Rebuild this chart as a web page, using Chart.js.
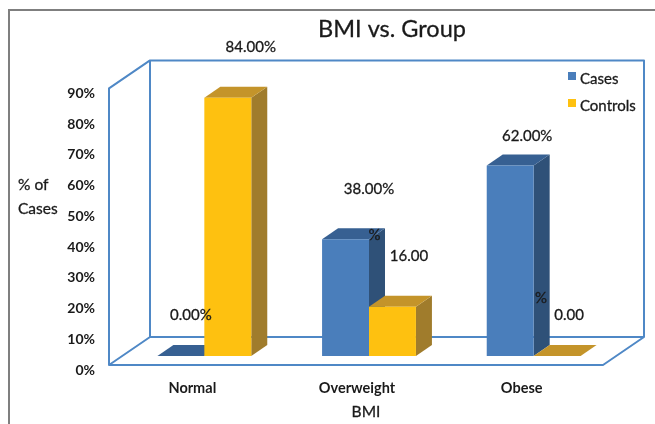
<!DOCTYPE html>
<html>
<head>
<meta charset="utf-8">
<title>BMI vs. Group</title>
<script src="https://cdn.jsdelivr.net/npm/chart.js@4"></script>
<style>
html, body { margin: 0; padding: 0; background: #fff; overflow: hidden; }
#box { position: absolute; left: 8px; top: 9px; width: 645px; height: 440px; border: 2px solid #7f7f7f; pointer-events: none; }
canvas { display: block; }
</style>
</head>
<body>
<canvas id="myChart" width="655" height="424"></canvas>
<div id="box"></div>
<script>
var categories = ['Normal', 'Overweight', 'Obese'];
var cases = [0, 38, 62];
var controls = [84, 16, 0];
var yTicks = [0, 10, 20, 30, 40, 50, 60, 70, 80, 90];

var font = 'Lato, "Open Sans", sans-serif';
var textColor = '#1a1a1a';
var frameColor = '#4f88c6';

// depth of a bar, and where the walls sit relative to the bars
var depth = { x: 16, y: -11 };
var front = { x: -13, y: 9 };
var back = { x: 28, y: -19 };

var faces = [
	{ top: '#376092', side: '#2f5178' },
	{ top: '#c4942a', side: '#a07c2c' }
];

// label placement relative to each bar: [dx, dy] of the number,
// and of the percent sign when it wrapped away from the number
var labelSpots = [
	[{ at: [10, -41] }, { at: [23.5, -50] }, { at: [17, -29] }],
	[{ at: [23, -51] }, { at: [16.5, -51], sign: [-18, -72] }, { at: [12, -41], sign: [-16, -58] }]
];

function poly(ctx, pts, color)
{
	ctx.fillStyle = color;
	ctx.beginPath();
	ctx.moveTo(pts[0][0], pts[0][1]);
	for(var i = 1; i < pts.length; i++){
		ctx.lineTo(pts[i][0], pts[i][1]);
	}
	ctx.closePath();
	ctx.fill();
}

function text(ctx, str, x, y, size, align)
{
	ctx.font = size + 'px ' + font;
	ctx.fillStyle = textColor;
	ctx.strokeStyle = textColor;
	ctx.lineWidth = 0.3;
	ctx.textAlign = align || 'center';
	ctx.textBaseline = 'middle';
	ctx.fillText(str, x, y);
	ctx.strokeText(str, x, y);
}

var box3d = {
	id: 'box3d',
	beforeDatasetsDraw: function(chart){
		var ctx = chart.ctx;
		var area = chart.chartArea;
		var y0 = chart.scales.y.getPixelForValue(0);
		var y90 = chart.scales.y.getPixelForValue(90);

		// back wall, left wall and floor
		ctx.save();
		ctx.strokeStyle = frameColor;
		ctx.lineWidth = 2;
		ctx.lineJoin = 'round';
		ctx.beginPath();
		ctx.rect(area.left + back.x, y90 + back.y, area.right - area.left, y0 - y90);
		ctx.moveTo(area.left + back.x, y90 + back.y);
		ctx.lineTo(area.left + front.x, y90 + front.y);
		ctx.lineTo(area.left + front.x, y0 + front.y);
		ctx.lineTo(area.left + back.x, y0 + back.y);
		ctx.moveTo(area.left + front.x, y0 + front.y);
		ctx.lineTo(area.right + front.x, y0 + front.y);
		ctx.lineTo(area.right + back.x, y0 + back.y);
		ctx.stroke();

		// top and side of each bar, the fronts are the real bars on top of these
		chart.data.datasets.forEach(function(ds, d){
			chart.getDatasetMeta(d).data.forEach(function(bar){
				var l = bar.x - bar.width / 2;
				var r = bar.x + bar.width / 2;
				poly(ctx, [[r, bar.y], [r + depth.x, bar.y + depth.y], [r + depth.x, bar.base + depth.y], [r, bar.base]], faces[d].side);
				poly(ctx, [[l, bar.y], [l + depth.x, bar.y + depth.y], [r + depth.x, bar.y + depth.y], [r, bar.y]], faces[d].top);
			});
		});
		ctx.restore();
	},
	afterDatasetsDraw: function(chart){
		var ctx = chart.ctx;
		ctx.save();

		chart.data.datasets.forEach(function(ds, d){
			chart.getDatasetMeta(d).data.forEach(function(bar, i){
				var spot = labelSpots[d][i];
				var num = ds.data[i].toFixed(2);
				if(spot.sign){
					text(ctx, num, bar.x + spot.at[0], bar.y + spot.at[1], 15);
					text(ctx, '%', bar.x + spot.sign[0], bar.y + spot.sign[1], 15);
				}else{
					text(ctx, num + '%', bar.x + spot.at[0], bar.y + spot.at[1], 15);
				}
			});
		});

		text(ctx, 'BMI vs. Group', 392, 29, 23.5);
		text(ctx, '% of', 18, 185, 15.5, 'left');
		text(ctx, 'Cases', 18, 209, 15.5, 'left');
		text(ctx, 'BMI', 366, 412, 15.5);

		// legend
		chart.data.datasets.forEach(function(ds, d){
			var y = 76 + d * 27;
			ctx.fillStyle = ds.backgroundColor;
			ctx.fillRect(568, y - 4, 8, 8);
			text(ctx, ds.label, 580, y + 3, 15, 'left');
		});
		ctx.restore();
	}
};

var ctx = document.getElementById('myChart').getContext('2d');
var chart = new Chart(ctx, {
	type: 'bar',
	plugins: [box3d],
	data: {
		labels: categories,
		datasets: [
			{ label: 'Cases', data: cases, backgroundColor: '#4a7ebb' },
			{ label: 'Controls', data: controls, backgroundColor: '#fec110' }
		]
	},
	options: {
		responsive: false,
		animation: false,
		layout: { padding: { top: 79.4, right: 39, left: 0, bottom: 0 } },
		datasets: { bar: { categoryPercentage: 0.57, barPercentage: 1, borderWidth: 0 } },
		plugins: {
			legend: { display: false },
			title: { display: false },
			tooltip: { enabled: false }
		},
		scales: {
			x: {
				grid: { display: false },
				border: { display: false },
				afterFit: function(s){ s.height = 68; },
				ticks: {
					color: textColor,
					font: { family: font, size: 14.5, weight: 'bold' },
					padding: 16,
					labelOffset: -12,
					maxRotation: 0
				}
			},
			y: {
				min: 0,
				max: 90,
				grid: { display: false },
				border: { display: false },
				afterFit: function(s){ s.width = 122; },
				afterBuildTicks: function(s){
					s.ticks = yTicks.map(function(v){ return { value: v }; });
				},
				ticks: {
					color: textColor,
					font: { family: font, size: 14, weight: 'bold' },
					padding: 19,
					labelOffset: 14,
					callback: function(v){ return v + '%'; }
				}
			}
		}
	}
});
</script>
</body>
</html>
